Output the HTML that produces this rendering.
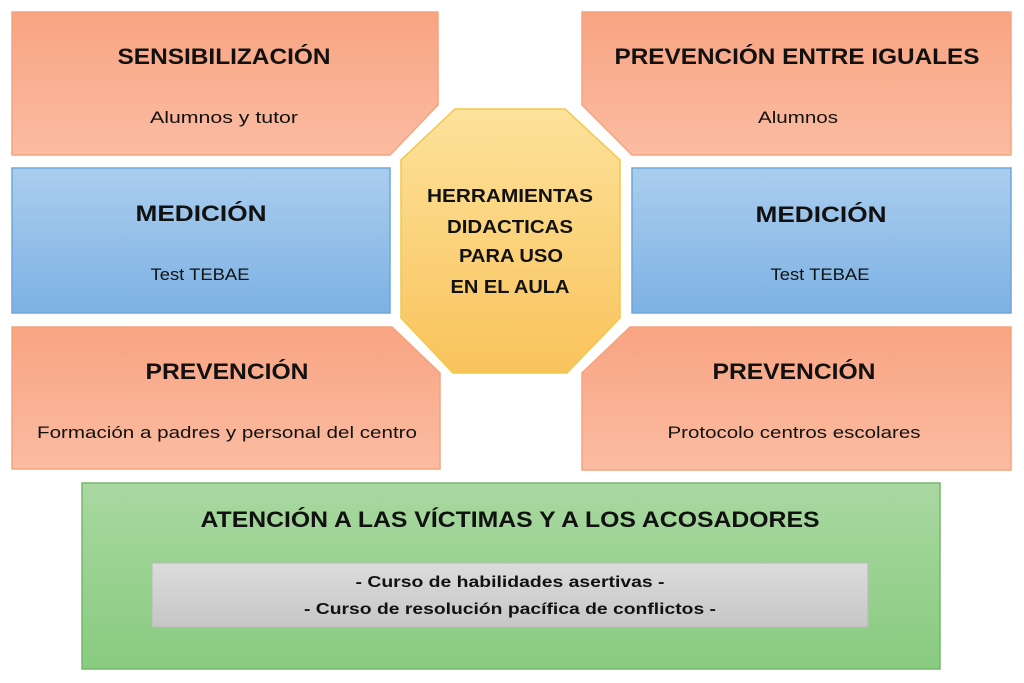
<!DOCTYPE html>
<html><head><meta charset="utf-8"><style>
html,body{margin:0;padding:0;background:#fff;}
svg{display:block;}
text{font-family:"Liberation Sans",sans-serif;fill:#111;text-anchor:middle;}
.t{font-weight:bold;font-size:22px;}
.s{font-size:17px;}
.o{font-weight:bold;font-size:18px;}
.g{font-weight:bold;font-size:16px;}
</style></head><body>
<svg width="1024" height="683" viewBox="0 0 1024 683">
<defs>
<linearGradient id="or" x1="0" y1="0" x2="0" y2="1"><stop offset="0" stop-color="#f8a482"/><stop offset="1" stop-color="#fbbca2"/></linearGradient>
<linearGradient id="bl" x1="0" y1="0" x2="0" y2="1"><stop offset="0" stop-color="#aacdee"/><stop offset="1" stop-color="#7db2e3"/></linearGradient>
<linearGradient id="gr" x1="0" y1="0" x2="0" y2="1"><stop offset="0" stop-color="#a9d8a1"/><stop offset="1" stop-color="#88cb7f"/></linearGradient>
<linearGradient id="gy" x1="0" y1="0" x2="0" y2="1"><stop offset="0" stop-color="#dcdcdc"/><stop offset="1" stop-color="#c6c6c6"/></linearGradient>
<linearGradient id="ye" x1="0" y1="0" x2="0" y2="1"><stop offset="0" stop-color="#fde29a"/><stop offset="1" stop-color="#f9c35c"/></linearGradient>
</defs>
<polygon points="12,12 438,12 438,105 390,155 12,155" fill="url(#or)" stroke="#f4a47c" stroke-width="1.5"/>
<polygon points="582,12 1011,12 1011,155 632,155 582,105" fill="url(#or)" stroke="#f4a47c" stroke-width="1.5"/>
<rect x="12" y="168" width="378" height="145" fill="url(#bl)" stroke="#6fa6d8" stroke-width="1.5"/>
<rect x="632" y="168" width="379" height="145" fill="url(#bl)" stroke="#6fa6d8" stroke-width="1.5"/>
<polygon points="12,327 392,327 440,373 440,469 12,469" fill="url(#or)" stroke="#f4a47c" stroke-width="1.5"/>
<polygon points="630,327 1011,327 1011,470 582,470 582,373" fill="url(#or)" stroke="#f4a47c" stroke-width="1.5"/>
<polygon points="455,109 565,109 620,160 620,318 567,373 453,373 401,318 401,160" fill="url(#ye)" stroke="#f0c84a" stroke-width="1.5"/>
<rect x="82" y="483" width="858" height="186" fill="url(#gr)" stroke="#74b86a" stroke-width="1.5"/>
<rect x="152" y="563" width="716" height="64" fill="url(#gy)" stroke="#b8b8b8" stroke-width="1"/>

<text class="t" x="224" y="64" textLength="213" lengthAdjust="spacingAndGlyphs">SENSIBILIZACIÓN</text>
<text class="s" x="224" y="123" textLength="148" lengthAdjust="spacingAndGlyphs">Alumnos y tutor</text>
<text class="t" x="797" y="64" textLength="365" lengthAdjust="spacingAndGlyphs">PREVENCIÓN ENTRE IGUALES</text>
<text class="s" x="798" y="123" textLength="80" lengthAdjust="spacingAndGlyphs">Alumnos</text>
<text class="t" x="201" y="221" textLength="131" lengthAdjust="spacingAndGlyphs">MEDICIÓN</text>
<text class="s" x="200" y="280" textLength="99" lengthAdjust="spacingAndGlyphs">Test TEBAE</text>
<text class="t" x="821" y="222" textLength="131" lengthAdjust="spacingAndGlyphs">MEDICIÓN</text>
<text class="s" x="820" y="280" textLength="99" lengthAdjust="spacingAndGlyphs">Test TEBAE</text>
<text class="t" x="227" y="379" textLength="163" lengthAdjust="spacingAndGlyphs">PREVENCIÓN</text>
<text class="s" x="227" y="438" textLength="380" lengthAdjust="spacingAndGlyphs">Formación a padres y personal del centro</text>
<text class="t" x="794" y="379" textLength="163" lengthAdjust="spacingAndGlyphs">PREVENCIÓN</text>
<text class="s" x="794" y="438" textLength="253" lengthAdjust="spacingAndGlyphs">Protocolo centros escolares</text>
<text class="o" x="510" y="202" textLength="166" lengthAdjust="spacingAndGlyphs">HERRAMIENTAS</text>
<text class="o" x="510" y="233" textLength="126" lengthAdjust="spacingAndGlyphs">DIDACTICAS</text>
<text class="o" x="511" y="262" textLength="104" lengthAdjust="spacingAndGlyphs">PARA USO</text>
<text class="o" x="510" y="293" textLength="119" lengthAdjust="spacingAndGlyphs">EN EL AULA</text>
<text class="t" x="510" y="527" textLength="619" lengthAdjust="spacingAndGlyphs">ATENCIÓN A LAS VÍCTIMAS Y A LOS ACOSADORES</text>
<text class="g" x="510" y="587" textLength="309" lengthAdjust="spacingAndGlyphs">- Curso de habilidades asertivas -</text>
<text class="g" x="510" y="614" textLength="412" lengthAdjust="spacingAndGlyphs">- Curso de resolución pacífica de conflictos -</text>
</svg>
</body></html>
